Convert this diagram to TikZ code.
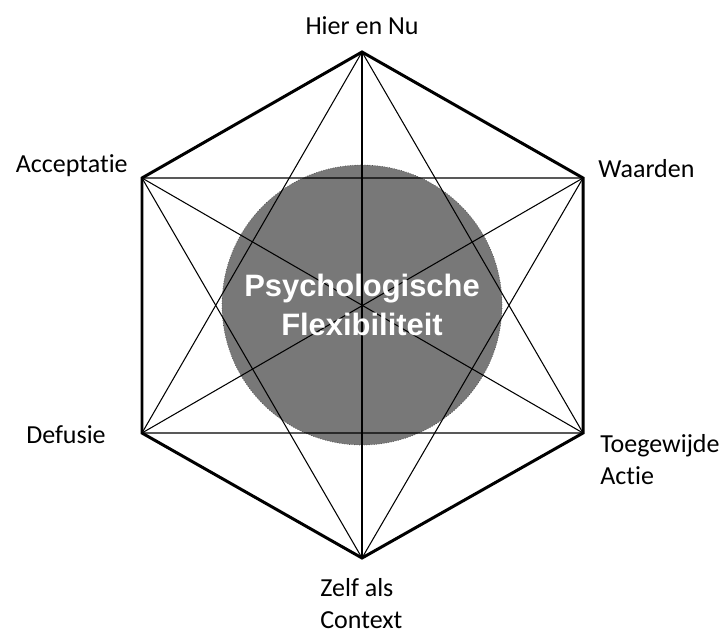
\documentclass[tikz,border=0pt]{standalone}
\usepackage{fontspec}
\setmainfont{Carlito}[Ligatures=NoCommon]
\newfontfamily\flexfont{Liberation Sans}
\usepackage{tikz}
\usetikzlibrary{positioning}
\definecolor{flexgray}{RGB}{120,120,120}

\begin{document}
\begin{tikzpicture}[x=0.02cm,y=-0.02cm,
    rim/.style={line width=1.7pt,line join=miter},
    spoke/.style={line width=0.6pt},
    lbl/.style={inner sep=0pt,font=\fontsize{14.8}{18}\selectfont}]
    \useasboundingbox (0,0) rectangle (722,632);

    % Corners of the hexagon
    \coordinate (hier) at (362,52);
    \coordinate (waarden) at (583,178);
    \coordinate (actie) at (583,433);
    \coordinate (zelf) at (362,558);
    \coordinate (defusie) at (142,433);
    \coordinate (accept) at (142,178);

    % Centre circle
    \node[circle,fill=flexgray,draw=black!70,densely dotted,thin,
          minimum size=5.6cm,inner sep=0pt] (flex) at (362,305) {};

    % Inner lines: two triangles and three diagonals
    \draw[spoke] (hier) -- (actie) -- (defusie) -- cycle;
    \draw[spoke] (accept) -- (waarden) -- (zelf) -- cycle;
    \draw[spoke] (hier) -- (zelf);
    \draw[spoke] (accept) -- (actie);
    \draw[spoke] (waarden) -- (defusie);

    % Outer hexagon
    \draw[rim] (hier) -- (waarden) -- (actie) -- (zelf) -- (defusie) -- (accept) -- cycle;

    % Centre text
    \node[text=white,align=center,font=\flexfont\bfseries\fontsize{17.6}{22}\selectfont]
        (flextext) at (flex) {Psychologische\\Flexibiliteit};

    % Labels (multi-line ones sit on the baseline of their last line)
    \node[lbl,anchor=base] (lhier) at (362,34) {Hier en Nu};
    \node[lbl,anchor=base west] (lwaarden) at (598,177) {Waarden};
    \node[lbl,anchor=base east] (laccept) at (128,172) {Acceptatie};
    \node[lbl,anchor=base east] (ldefusie) at (106,443) {Defusie};
    \node[lbl,anchor=base west,align=left] (lactie) at (600,484) {Toegewijde\\Actie};
    \node[lbl,anchor=base west,align=left] (lzelf) at (320,628) {Zelf als\\Context};
\end{tikzpicture}
\end{document}
